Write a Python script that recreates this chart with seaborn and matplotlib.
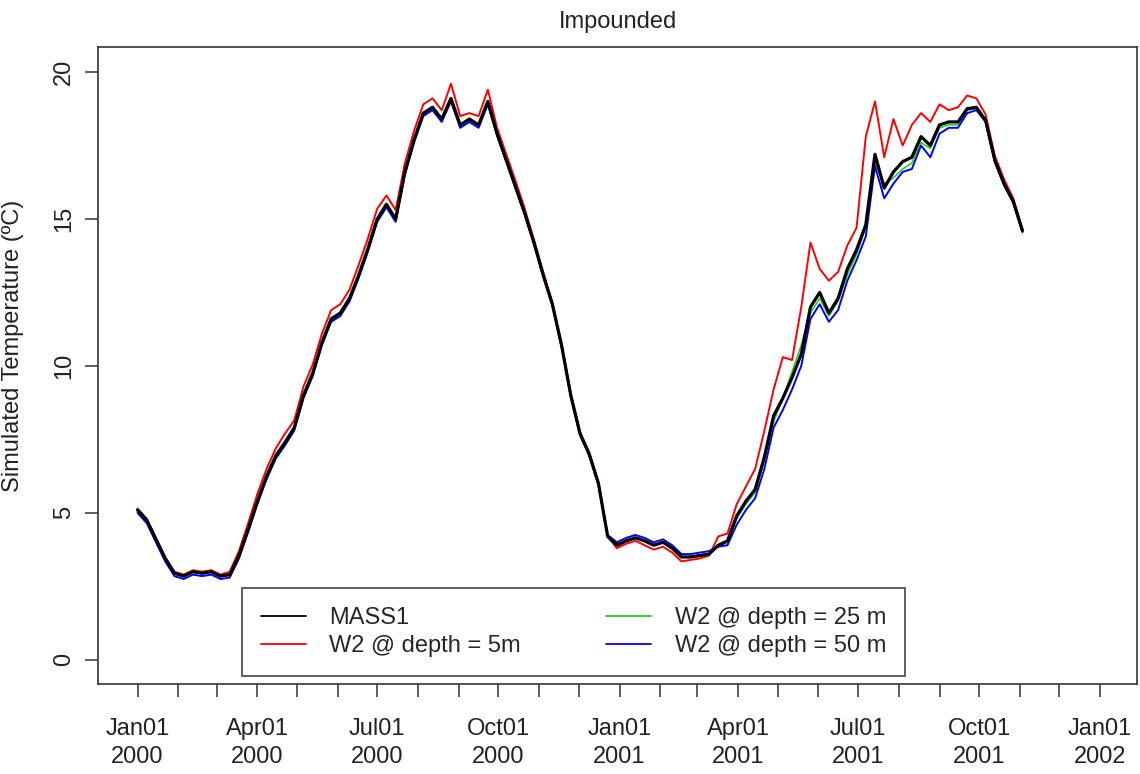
import pandas as pd
import matplotlib
matplotlib.use('Agg')
import matplotlib.pyplot as plt
import matplotlib.dates as mdates
import seaborn as sns

# weekly samples, starting Jan 01 2000
start_date = '2000-01-01'
n_weeks = 97

mass1 = [5.1, 4.75, 4.1, 3.45, 2.95, 2.85, 3.0, 2.95, 3.0, 2.85,
         2.9, 3.55, 4.45, 5.4, 6.25, 6.95, 7.4, 7.9, 9.0, 9.75,
         10.8, 11.6, 11.8, 12.3, 13.1, 14.0, 15.0, 15.5, 15.0, 16.6,
         17.7, 18.6, 18.8, 18.4, 19.1, 18.2, 18.4, 18.2, 19.0, 17.9,
         17.0, 16.1, 15.2, 14.2, 13.1, 12.1, 10.7, 9.0, 7.7, 7.0,
         6.0, 4.2, 3.9, 4.05, 4.15, 4.05, 3.9, 4.0, 3.8, 3.5,
         3.5, 3.55, 3.6, 3.9, 4.05, 4.9, 5.4, 5.8, 6.9, 8.3,
         8.9, 9.6, 10.4, 12.0, 12.5, 11.8, 12.3, 13.3, 13.95, 14.8,
         17.2, 16.05, 16.6, 16.95, 17.1, 17.8, 17.5, 18.2, 18.3, 18.3,
         18.75, 18.8, 18.35, 17.0, 16.2, 15.6, 14.6]

w2_5m = [5.15, 4.8, 4.15, 3.5, 3.0, 2.9, 3.05, 3.0, 3.05, 2.9,
         3.0, 3.7, 4.65, 5.65, 6.5, 7.2, 7.7, 8.15, 9.3, 10.05,
         11.1, 11.9, 12.1, 12.6, 13.45, 14.35, 15.35, 15.8, 15.3, 16.9,
         18.0, 18.9, 19.1, 18.7, 19.6, 18.5, 18.6, 18.5, 19.4, 18.1,
         17.2, 16.3, 15.35, 14.3, 13.2, 12.15, 10.75, 9.05, 7.75, 7.05,
         6.05, 4.2, 3.8, 3.95, 4.05, 3.9, 3.75, 3.85, 3.65, 3.35,
         3.4, 3.45, 3.55, 4.2, 4.3, 5.3, 5.9, 6.5, 7.8, 9.2,
         10.3, 10.2, 12.0, 14.2, 13.3, 12.9, 13.2, 14.1, 14.7, 17.8,
         19.0, 17.1, 18.4, 17.5, 18.2, 18.6, 18.3, 18.9, 18.7, 18.8,
         19.2, 19.1, 18.55, 17.15, 16.35, 15.7, 14.65]

w2_25m = [5.08, 4.73, 4.08, 3.43, 2.93, 2.83, 2.98, 2.93, 2.98, 2.83,
          2.88, 3.52, 4.42, 5.37, 6.22, 6.92, 7.37, 7.87, 8.97, 9.72,
          10.77, 11.57, 11.77, 12.27, 13.07, 13.97, 14.97, 15.47, 14.97, 16.57,
          17.67, 18.57, 18.77, 18.37, 19.07, 18.17, 18.37, 18.17, 18.97, 17.88,
          16.98, 16.08, 15.18, 14.18, 13.08, 12.08, 10.68, 8.98, 7.68, 6.98,
          5.98, 4.2, 3.92, 4.07, 4.17, 4.07, 3.92, 4.02, 3.82, 3.52,
          3.52, 3.57, 3.62, 3.85, 4.0, 4.8, 5.3, 5.7, 6.8, 8.1,
          8.9, 9.8, 10.7, 11.8, 12.3, 11.7, 12.2, 13.1, 13.8, 14.7,
          16.9, 16.2, 16.4, 16.7, 16.9, 17.6, 17.4, 18.1, 18.2, 18.2,
          18.7, 18.75, 18.3, 16.95, 16.15, 15.55, 14.55]

w2_50m = [5.0, 4.65, 4.0, 3.35, 2.85, 2.75, 2.9, 2.85, 2.9, 2.75,
          2.8, 3.45, 4.35, 5.3, 6.15, 6.85, 7.3, 7.8, 8.9, 9.65,
          10.7, 11.5, 11.7, 12.2, 13.0, 13.9, 14.9, 15.4, 14.9, 16.5,
          17.6, 18.5, 18.7, 18.3, 19.0, 18.1, 18.3, 18.1, 18.9, 17.85,
          16.95, 16.05, 15.15, 14.15, 13.05, 12.05, 10.65, 8.95, 7.65, 6.95,
          5.95, 4.25, 4.0, 4.15, 4.25, 4.15, 4.0, 4.1, 3.9, 3.6,
          3.6, 3.65, 3.7, 3.85, 3.9, 4.6, 5.1, 5.5, 6.5, 7.9,
          8.5, 9.2, 10.0, 11.6, 12.1, 11.5, 11.9, 12.9, 13.6, 14.4,
          16.8, 15.7, 16.2, 16.6, 16.7, 17.5, 17.1, 17.9, 18.1, 18.1,
          18.6, 18.7, 18.3, 16.95, 16.15, 15.55, 14.55]

labels = ['MASS1', 'W2 @ depth = 5m', 'W2 @ depth = 25 m', 'W2 @ depth = 50 m']
colors = ['black', '#ff0000', '#1ccc1c', '#0000ff']

dates = pd.date_range(start_date, periods=n_weeks, freq='7D')
df = pd.DataFrame({'date': dates, labels[0]: mass1, labels[1]: w2_5m,
                   labels[2]: w2_25m, labels[3]: w2_50m})

sns.set_style('ticks')
plt.rcParams['font.family'] = ['Liberation Sans', 'DejaVu Sans']
plt.rcParams['font.size'] = 17

fig = plt.figure(figsize=(11.4, 7.74), dpi=100)
ax = fig.add_axes([0.086, 0.1163, 0.9114, 0.823])

# colored series first, MASS1 on top
widths = {labels[0]: 2.3, labels[1]: 1.4, labels[2]: 1.1, labels[3]: 1.4}
for lab, col in [(labels[1], colors[1]), (labels[2], colors[2]),
                 (labels[3], colors[3]), (labels[0], colors[0])]:
    sns.lineplot(data=df, x='date', y=lab, color=col, lw=widths[lab],
                 label=lab, ax=ax)

ax.set_xlim(pd.Timestamp('1999-12-02'), pd.Timestamp('2002-01-29'))
ax.set_ylim(-0.82, 20.85)
ax.set_yticks([0, 5, 10, 15, 20])

ax.xaxis.set_major_locator(mdates.MonthLocator(bymonth=[1, 4, 7, 10]))
ax.xaxis.set_major_formatter(mdates.DateFormatter('%b%d\n%Y'))
ax.xaxis.set_minor_locator(mdates.MonthLocator())
ax.tick_params(axis='x', which='both', length=9.5, width=1.1, color='#333333',
               pad=15, labelsize=17, labelcolor='#222222')
ax.tick_params(axis='y', length=9.5, width=1.1, color='#333333', pad=7,
               labelsize=17, labelcolor='#222222')
for t in ax.get_xticklabels():
    t.set_linespacing(1.35)
for t in ax.get_yticklabels():
    t.set_rotation(90)
    t.set_va('center')

for s in ax.spines.values():
    s.set_visible(True)
    s.set_color('#333333')
    s.set_linewidth(1.2)

ax.set_xlabel('')
ax.set_ylabel('Simulated Temperature (ºC)', fontsize=17, color='#222222')
ax.yaxis.set_label_coords(-0.071, 0.53)
ax.set_title('Impounded', fontsize=17, color='#222222', pad=14)

handles, labs = ax.get_legend_handles_labels()
order = [labs.index(l) for l in labels]
leg = ax.legend([handles[i] for i in order], [labs[i] for i in order],
                ncol=2, loc='upper left', mode='expand',
                bbox_to_anchor=(0.1386, 0.011, 0.6381, 0.1397),
                borderaxespad=0, frameon=True, fancybox=False,
                framealpha=1, edgecolor='#444444', handlelength=1.9,
                handletextpad=1.0, borderpad=0.8, labelspacing=0.25,
                fontsize=17)
leg.get_frame().set_linewidth(1.2)
for h in leg.get_lines():
    h.set_linewidth(1.3)

fig.savefig('out.png', dpi=100, facecolor='white')
